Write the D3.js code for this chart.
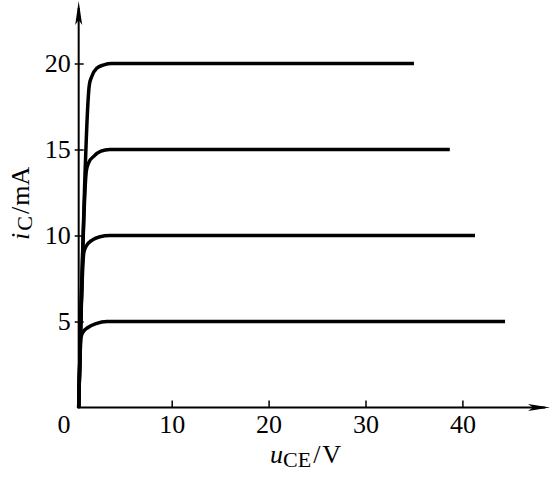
<!DOCTYPE html>
<html>
<head>
<meta charset="utf-8">
<script src="https://cdn.jsdelivr.net/npm/d3@7"></script>
<style>
  body { margin: 0; background: #fff; }
  text { font-family: "Liberation Serif", "Times New Roman", serif; fill: #000; }
</style>
</head>
<body>
<div id="graphWrapper"></div>
<script>
// output characteristic curves, uCE (V) vs iC (mA)
var uTicks = [10, 20, 30, 40];
var iTicks = [5, 10, 15, 20];
var uStart = 0.4;

var curve5  = [[0.4, 0], [0.65, 4.1], [0.9, 4.42], [1.36, 4.65], [2.2, 4.88], [3.3, 5], [44.4, 5]];
var curve10 = [[0.4, 0], [0.93, 9], [1.2, 9.4], [1.75, 9.72], [2.6, 9.93], [3.6, 10], [41.3, 10]];
var curve15 = [[0.4, 0], [1.2, 13.8], [1.45, 14.25], [1.95, 14.6], [2.7, 14.9], [3.6, 15], [38.7, 15]];
var curve20 = [[0.4, 0], [1.5, 18.75], [1.74, 19.23], [2.26, 19.72], [3, 19.92], [3.8, 20], [35, 20]];
var curves = [curve5, curve10, curve15, curve20];

var w = 551, h = 479;

var svg = d3.select("#graphWrapper").append("svg")
    .attr("width", w)
    .attr("height", h);
svg.append("rect").attr("width", w).attr("height", h).attr("fill", "#fff");

var x = d3.scaleLinear().domain([0, 50]).range([74.8, 559.3]);
var y = d3.scaleLinear().domain([0, 20]).range([407.5, 63.5]);

var ox = x(uStart), oy = y(0);

// axes lines + arrows
svg.append("line")
    .attr("x1", ox).attr("y1", oy + 1)
    .attr("x2", ox).attr("y2", 8)
    .attr("stroke", "#000").attr("stroke-width", 2);
svg.append("line")
    .attr("x1", ox - 1).attr("y1", oy)
    .attr("x2", 545).attr("y2", oy)
    .attr("stroke", "#000").attr("stroke-width", 2);
svg.append("path")
    .attr("d", "M" + ox + ",1L" + (ox - 3.5) + ",25L" + ox + ",20L" + (ox + 3.5) + ",25Z")
    .attr("fill", "#000");
svg.append("path")
    .attr("d", "M550," + oy + "L528," + (oy - 3.5) + "L533," + oy + "L528," + (oy + 3.5) + "Z")
    .attr("fill", "#000");

// x ticks
var xAxis = d3.axisBottom(x)
    .tickValues(uTicks)
    .tickSize(-7)
    .tickPadding(7)
    .tickFormat(d3.format("d"));
var gx = svg.append("g")
    .attr("transform", "translate(0," + oy + ")")
    .call(xAxis);
gx.select(".domain").remove();
gx.selectAll(".tick line").attr("stroke", "#000").attr("stroke-width", 1.5);
gx.selectAll(".tick text")
    .style("font-family", "Liberation Serif")
    .style("font-size", "26px")
    .attr("fill", "#000");

// y ticks
var yAxis = d3.axisLeft(y)
    .tickValues(iTicks)
    .tickSize(0)
    .tickPadding(8)
    .tickFormat(d3.format("d"));
var gy = svg.append("g")
    .attr("transform", "translate(" + ox + ",0)")
    .call(yAxis);
gy.select(".domain").remove();
gy.selectAll(".tick line")
    .attr("x1", -4).attr("x2", 5)
    .attr("stroke", "#000").attr("stroke-width", 1.5);
gy.selectAll(".tick text")
    .style("font-family", "Liberation Serif")
    .style("font-size", "26px")
    .attr("fill", "#000");

// origin label
svg.append("text")
    .attr("x", 64).attr("y", oy + 25)
    .attr("text-anchor", "middle")
    .style("font-size", "26px")
    .text("0");

// curves
var line = d3.line()
    .x(function(d){ return x(d[0]); })
    .y(function(d){ return y(d[1]); })
    .curve(d3.curveMonotoneX);

svg.selectAll(".trendline")
    .data(curves)
    .enter()
    .append("path")
    .classed("trendline", true)
    .attr("d", line)
    .attr("fill", "none")
    .attr("stroke", "#000")
    .attr("stroke-width", 3.5)
    .attr("stroke-linejoin", "round");

// x label
var xl = svg.append("text")
    .attr("x", 270).attr("y", 463)
    .style("font-size", "26px");
xl.append("tspan").style("font-style", "italic").text("u");
xl.append("tspan").attr("dy", 4).style("font-size", "22px").text("CE");
xl.append("tspan").attr("dy", -4).attr("dx", 2).text("/");
xl.append("tspan").attr("dx", 2).text("V");

// y label
var yl = svg.append("text")
    .attr("transform", "translate(29,240) rotate(-90)")
    .style("font-size", "26px");
yl.append("tspan").style("font-style", "italic").text("i");
yl.append("tspan").attr("dy", 3).attr("dx", 2).style("font-size", "22px").text("C");
yl.append("tspan").attr("dy", -3).attr("dx", 2).text("/");
yl.append("tspan").attr("dx", 1).text("mA");
</script>
</body>
</html>
